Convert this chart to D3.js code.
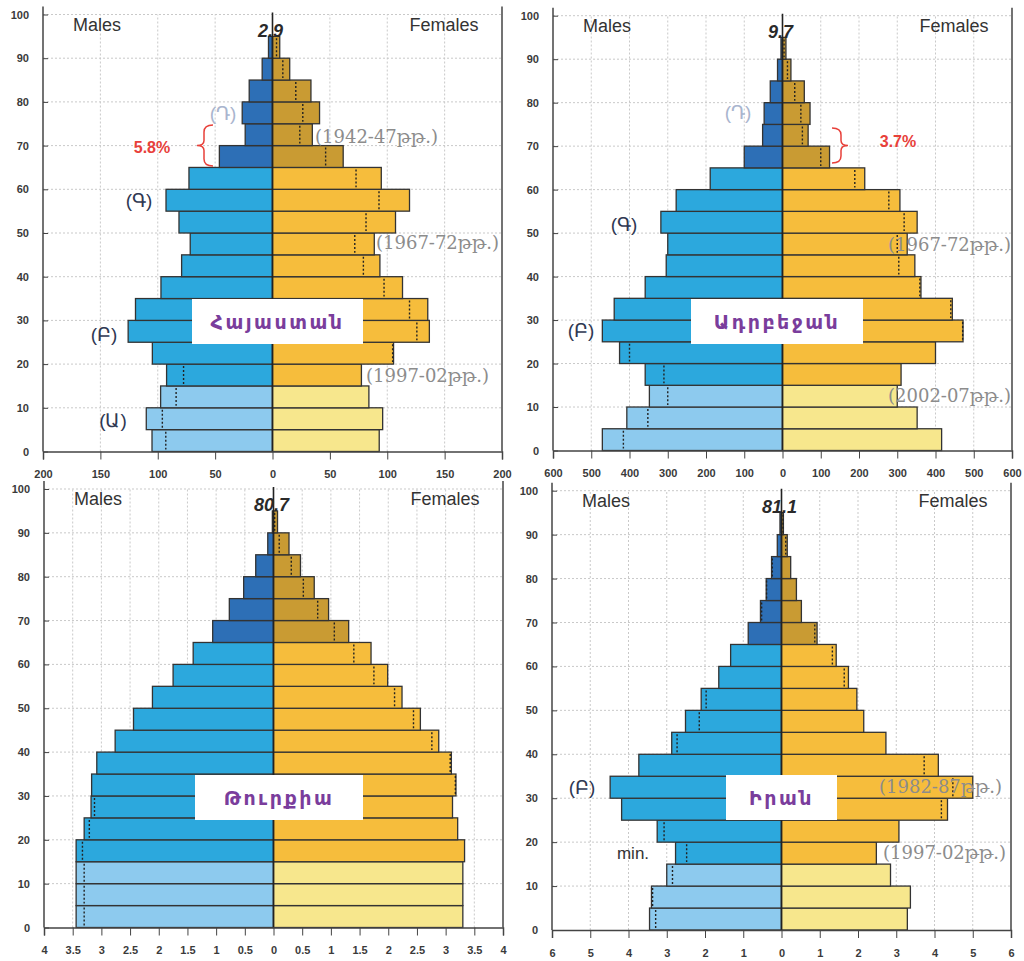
<!DOCTYPE html>
<html>
<head>
<meta charset="utf-8">
<script src="https://cdn.jsdelivr.net/npm/d3@7"></script>
<style>
  html, body { margin: 0; padding: 0; background: #fff; }
  svg { display: block; }
  .tick text { font-family: "Liberation Sans", Arial, sans-serif; font-size: 11px; font-weight: bold; fill: #3a3a3a; }
</style>
</head>
<body>
<svg id="chart" width="1024" height="961"></svg>
<script>
// age groups (start of each 5-year band)
const ageStarts = [0, 5, 10, 15, 20, 25, 30, 35, 40, 45, 50, 55, 60, 65, 70, 75, 80, 85, 90];
const yTicks = [0, 10, 20, 30, 40, 50, 60, 70, 80, 90, 100];

// Armenia, thousands
const armeniaMale   = [105, 110, 97.5, 92.3, 104.7, 125.8, 119.4, 97.2, 79.2, 71.7, 81.5, 92.8, 72.8, 46.3, 23.8, 26.4, 20.3, 9, 3.5];
const armeniaFemale = [93, 96, 84, 77.5, 105.5, 136.7, 135.3, 113.3, 93.6, 88.7, 107.2, 119.4, 94.8, 61.6, 34.7, 41, 33.5, 15, 6.3];
// Azerbaijan, thousands
const azerMale   = [471, 407, 348, 359, 426, 471, 440, 359, 304, 300, 318, 278, 189, 100, 52, 48, 32, 13, 4];
const azerFemale = [416, 352, 300, 310, 400, 472, 444, 362, 346, 326, 352, 307, 215, 123, 67, 72, 57, 22, 9];
// Turkey, millions
const turkeyMale   = [3.44, 3.44, 3.44, 3.44, 3.30, 3.18, 3.17, 3.08, 2.76, 2.44, 2.11, 1.75, 1.40, 1.06, 0.77, 0.52, 0.31, 0.10, 0.02];
const turkeyFemale = [3.30, 3.30, 3.30, 3.33, 3.21, 3.12, 3.18, 3.10, 2.88, 2.56, 2.24, 1.99, 1.70, 1.31, 0.96, 0.71, 0.47, 0.27, 0.07];
// Iran, millions
const iranMale   = [3.45, 3.40, 3.00, 2.77, 3.25, 4.18, 4.48, 3.73, 2.87, 2.51, 2.10, 1.64, 1.33, 0.87, 0.55, 0.40, 0.26, 0.11, 0.04];
const iranFemale = [3.29, 3.37, 2.85, 2.48, 3.07, 4.34, 5.00, 4.10, 2.73, 2.15, 1.97, 1.75, 1.43, 0.93, 0.52, 0.39, 0.24, 0.15, 0.05];

const colors = {
  male:   ['#8dcaee', '#2ca8dd', '#2d6fb6'],
  female: ['#f7e78d', '#f6bd3c', '#c99b33']
};
function band(i) { return ageStarts[i] < 15 ? 0 : (ageStarts[i] < 65 ? 1 : 2); }

const panels = [
  { title: 'Հայաստան', male: armeniaMale, female: armeniaFemale, max: 200, step: 50, total: '2.9',
    left: 43, top: 14.5, bottom: 451.5, box: [192, 299, 171, 45],
    notes: [
      { t: '(Դ)', x: 223, y: 113, c: 'ghost' },
      { t: '5.8%', x: 152, y: 147, c: 'pct' },
      { t: '(1942-47թթ.)', x: 315, y: 137, c: 'period', a: 'start' },
      { t: '(Գ)', x: 139, y: 200, c: 'gen' },
      { t: '(1967-72թթ.)', x: 376, y: 243, c: 'period', a: 'start' },
      { t: '(Բ)', x: 104, y: 334, c: 'gen' },
      { t: '(1997-02թթ.)', x: 366, y: 376, c: 'period', a: 'start' },
      { t: '(Ա)', x: 113, y: 420, c: 'gen' }
    ],
    brace: { x: 197, w: 16, y0: 125, y1: 166, dir: -1 } },
  { title: 'Ադրբեջան', male: azerMale, female: azerFemale, max: 600, step: 100, total: '9.7',
    left: 553, top: 15.7, bottom: 450.5, box: [691, 299, 172, 45],
    notes: [
      { t: '(Դ)', x: 738, y: 112, c: 'ghost' },
      { t: '3.7%', x: 898, y: 141, c: 'pct' },
      { t: '(Գ)', x: 624, y: 224, c: 'gen' },
      { t: '(1967-72թթ.)', x: 888, y: 245, c: 'period', a: 'start' },
      { t: '(Բ)', x: 581, y: 330, c: 'gen' },
      { t: '(2002-07թթ.)', x: 888, y: 396, c: 'period', a: 'start' }
    ],
    brace: { x: 848, w: 16, y0: 128, y1: 163, dir: 1 } },
  { title: 'Թուրքիա', male: turkeyMale, female: turkeyFemale, max: 4, step: 0.5, total: '80.7',
    left: 44, top: 489, bottom: 927.5, box: [195, 775, 168, 45], notes: [] },
  { title: 'Իրան', male: iranMale, female: iranFemale, max: 6, step: 1, total: '81.1',
    left: 552, top: 490.7, bottom: 930, box: [726, 775, 111, 45],
    notes: [
      { t: '(Բ)', x: 582, y: 787, c: 'gen' },
      { t: '(1982-87թթ.)', x: 879, y: 787, c: 'period', a: 'start' },
      { t: 'min.', x: 633, y: 853, c: 'plain' },
      { t: '(1997-02թթ.)', x: 883, y: 853, c: 'period', a: 'start' }
    ] }
];

const noteStyle = {
  ghost:  { fill: '#a9b5ce', font: '"Liberation Sans", Arial, sans-serif', size: 19, weight: 'normal' },
  gen:    { fill: '#2f3852', font: '"Liberation Sans", Arial, sans-serif', size: 19, weight: 'normal' },
  pct:    { fill: '#e8403a', font: '"Liberation Sans", Arial, sans-serif', size: 16, weight: 'bold' },
  period: { fill: '#8c8c8c', font: '"DejaVu Serif", "Liberation Serif", serif', size: 18, weight: 'normal' },
  plain:  { fill: '#333', font: '"Liberation Sans", Arial, sans-serif', size: 17, weight: 'normal' }
};

const svg = d3.select('#chart');
const W = 459;

panels.forEach(p => {
  const g = svg.append('g');
  const x = d3.scaleLinear().domain([-p.max, p.max]).range([p.left, p.left + W]);
  const y = d3.scaleLinear().domain([0, 100]).range([p.bottom, p.top]);
  const cx = x(0);
  const xTicks = d3.range(-p.max, p.max + p.step / 2, p.step).map(v => +v.toFixed(3));

  // grid
  g.append('g').selectAll('line').data(xTicks.filter(v => v !== 0 && Math.abs(v) !== p.max))
    .join('line')
    .attr('x1', d => x(d)).attr('x2', d => x(d))
    .attr('y1', y(0)).attr('y2', y(100))
    .attr('stroke', '#c9c9c9').attr('stroke-dasharray', '2,2');
  g.append('g').selectAll('line').data(yTicks.filter(v => v > 0))
    .join('line')
    .attr('x1', x(-p.max)).attr('x2', x(p.max))
    .attr('y1', d => y(d)).attr('y2', d => y(d))
    .attr('stroke', '#c9c9c9').attr('stroke-dasharray', '2,2');

  // bars
  const rows = ageStarts.map((a, i) => ({ a, i, m: p.male[i], f: p.female[i] }));
  const bars = g.append('g').attr('stroke', '#333').attr('stroke-width', 1.3);
  bars.selectAll('.m').data(rows).join('rect').attr('class', 'm')
    .attr('x', d => x(-d.m)).attr('width', d => cx - x(-d.m))
    .attr('y', d => y(d.a + 5)).attr('height', d => y(d.a) - y(d.a + 5))
    .attr('fill', d => colors.male[band(d.i)]);
  bars.selectAll('.f').data(rows).join('rect').attr('class', 'f')
    .attr('x', cx).attr('width', d => x(d.f) - cx)
    .attr('y', d => y(d.a + 5)).attr('height', d => y(d.a) - y(d.a + 5))
    .attr('fill', d => colors.female[band(d.i)]);

  // dotted mirror of the other sex inside the wider bar
  g.append('g').selectAll('line').data(rows).join('line')
    .attr('x1', d => d.m > d.f ? x(-d.f) : x(d.m))
    .attr('x2', d => d.m > d.f ? x(-d.f) : x(d.m))
    .attr('y1', d => y(d.a + 5) + 2).attr('y2', d => y(d.a) - 2)
    .attr('stroke', '#222').attr('stroke-width', 1.4).attr('stroke-dasharray', '2,2');

  // frame
  const frame = g.append('g').attr('stroke', '#444').attr('stroke-width', 1.5);
  frame.append('line').attr('x1', x(-p.max)).attr('x2', x(-p.max)).attr('y1', y(100) - 8).attr('y2', y(0));
  frame.append('line').attr('x1', x(p.max)).attr('x2', x(p.max)).attr('y1', y(100) - 8).attr('y2', y(0));
  g.append('line').attr('x1', cx).attr('x2', cx).attr('y1', y(100) - 2).attr('y2', y(0))
    .attr('stroke', '#222').attr('stroke-width', 1.6);

  // axes
  const xAxis = d3.axisBottom(x).tickValues(xTicks).tickFormat(d => String(Math.abs(d)))
    .tickSize(8).tickPadding(11);
  const ax = g.append('g').attr('transform', `translate(0,${y(0)})`).call(xAxis);
  ax.select('.domain').attr('stroke', '#444').attr('stroke-width', 1.5);
  ax.selectAll('.tick line').attr('stroke', '#444');

  const yAxis = d3.axisLeft(y).tickValues(yTicks).tickSize(-5).tickPadding(14);
  const ay = g.append('g').attr('transform', `translate(${x(-p.max)},0)`).call(yAxis);
  ay.select('.domain').remove();
  ay.selectAll('.tick line').attr('stroke', '#444');

  // headers
  const sans = '"Liberation Sans", Arial, sans-serif';
  g.append('text').text('Males').attr('x', x(-p.max) + 54).attr('y', y(100) + 16)
    .attr('text-anchor', 'middle').attr('font-family', sans).attr('font-size', 18).attr('fill', '#333');
  g.append('text').text('Females').attr('x', x(p.max) - 58).attr('y', y(100) + 16)
    .attr('text-anchor', 'middle').attr('font-family', sans).attr('font-size', 18).attr('fill', '#333');
  g.append('text').text(p.total).attr('x', cx - 2).attr('y', y(100) + 22)
    .attr('text-anchor', 'middle').attr('font-family', sans).attr('font-size', 18)
    .attr('font-weight', 'bold').attr('font-style', 'italic').attr('fill', '#2a2a2a');

  // country box
  g.append('rect').attr('x', p.box[0]).attr('y', p.box[1]).attr('width', p.box[2]).attr('height', p.box[3])
    .attr('fill', '#fff');
  g.append('text').text(p.title)
    .attr('x', p.box[0] + p.box[2] / 2).attr('y', p.box[1] + p.box[3] / 2 + 7)
    .attr('text-anchor', 'middle').attr('font-family', '"DejaVu Sans", sans-serif')
    .attr('font-size', 19).attr('font-weight', 'bold').attr('letter-spacing', 2.5).attr('fill', '#7a3d9c');

  // notes
  p.notes.forEach(n => {
    const s = noteStyle[n.c];
    g.append('text').text(n.t).attr('x', n.x).attr('y', n.y + s.size * 0.35)
      .attr('text-anchor', n.a || 'middle').attr('font-family', s.font)
      .attr('font-size', s.size).attr('font-weight', s.weight).attr('fill', s.fill);
  });

  if (p.brace) {
    const b = p.brace, d = b.dir, ym = (b.y0 + b.y1) / 2;
    const tip = b.x, mid = b.x - d * 7, end = b.x - d * b.w;
    const path = `M${end},${b.y0} Q${mid},${b.y0} ${mid},${b.y0 + 7} L${mid},${ym - 5} Q${mid},${ym} ${tip},${ym}` +
      ` Q${mid},${ym} ${mid},${ym + 5} L${mid},${b.y1 - 7} Q${mid},${b.y1} ${end},${b.y1}`;
    g.append('path').attr('d', path).attr('fill', 'none').attr('stroke', '#e8403a').attr('stroke-width', 1.5);
  }
});
</script>
</body>
</html>
